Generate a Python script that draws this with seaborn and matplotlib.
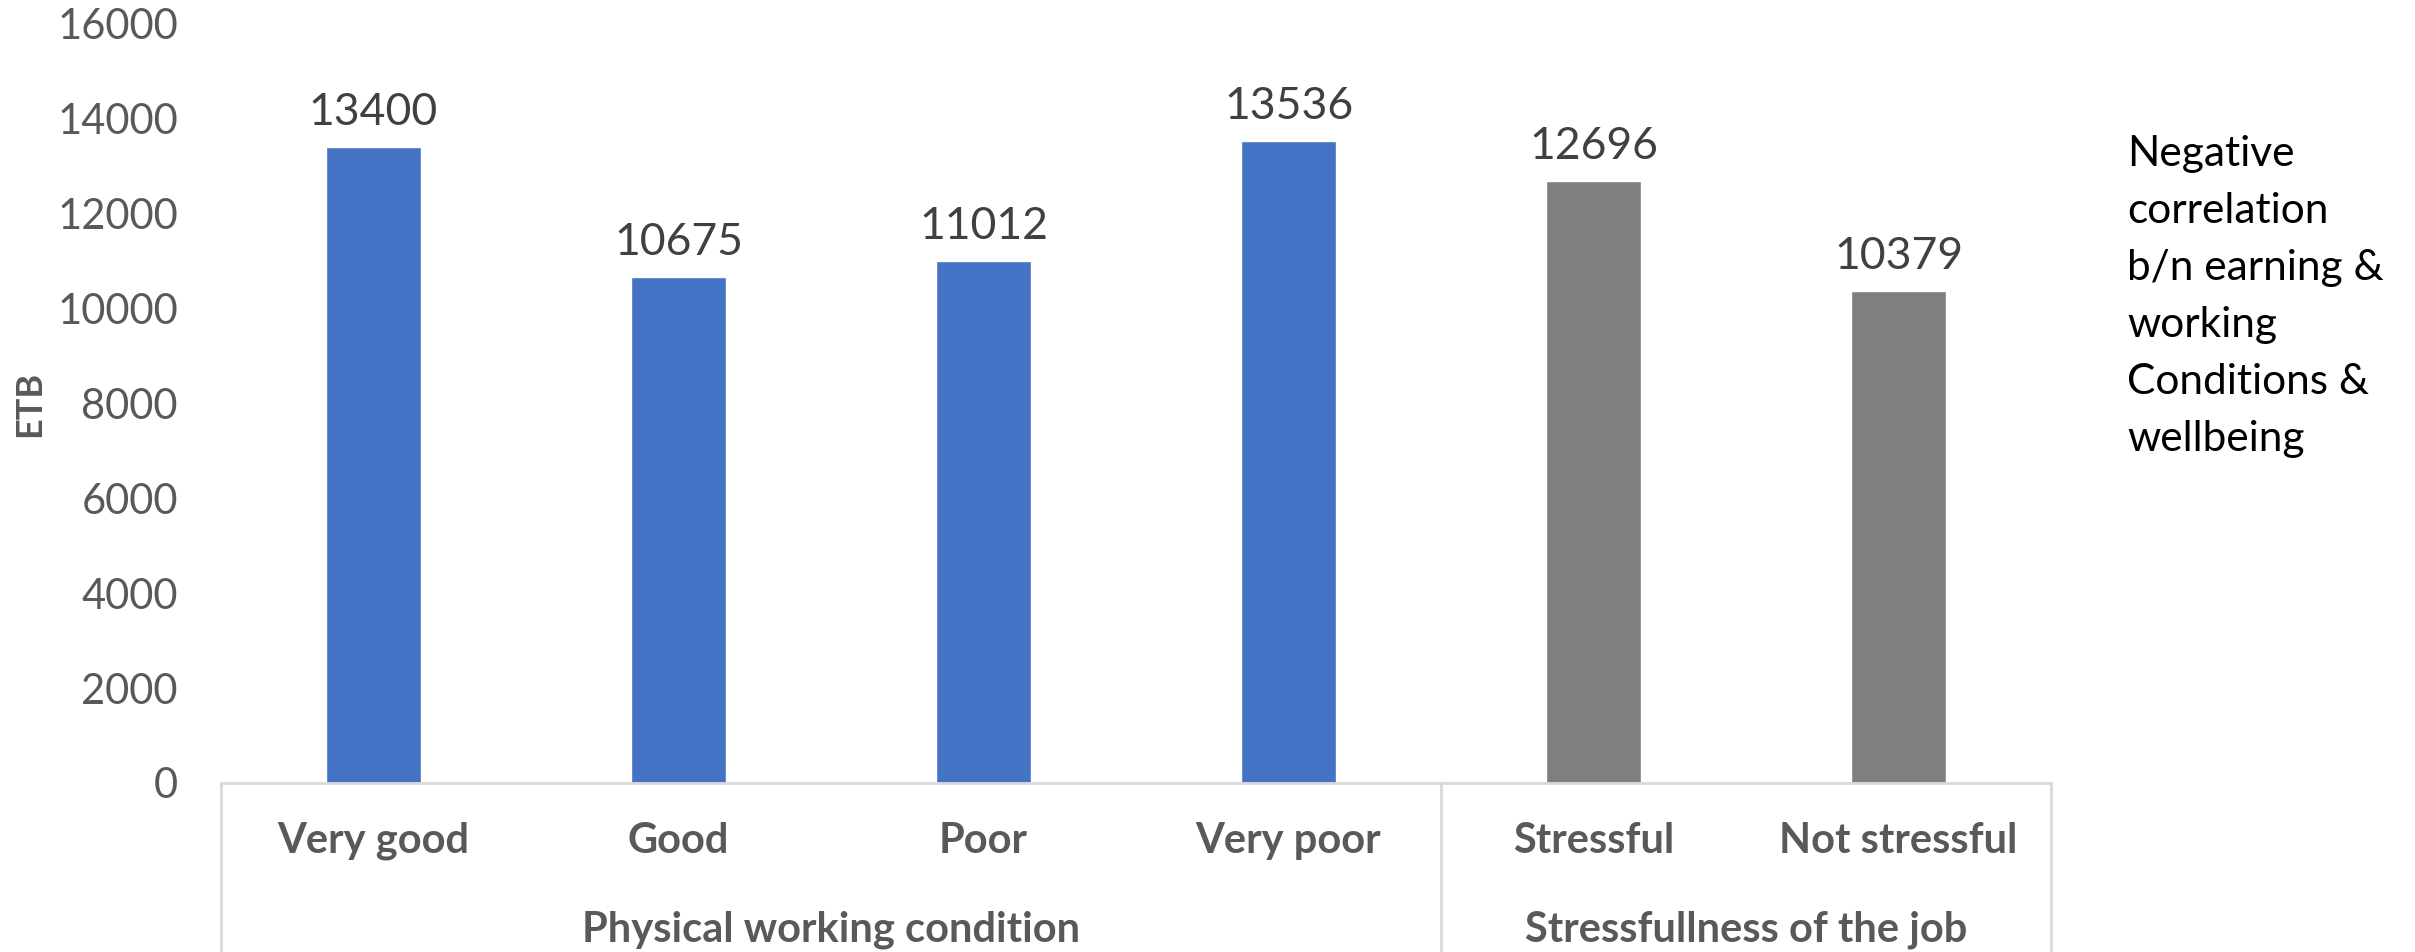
import matplotlib
matplotlib.use("Agg")
import matplotlib.pyplot as plt
import matplotlib.transforms as mtransforms
import seaborn as sns
import pandas as pd

# Average earnings (ETB) by working condition and job stress
categories = ["Very good", "Good", "Poor", "Very poor", "Stressful", "Not stressful"]
values = [13400, 10675, 11012, 13536, 12696, 10379]
groups = ["Physical working condition"] * 4 + ["Stressfullness of the job"] * 2
group_names = ["Physical working condition", "Stressfullness of the job"]
y_ticks = [0, 2000, 4000, 6000, 8000, 10000, 12000, 14000, 16000]
note_lines = ["Negative", "correlation", "b/n earning &", "working", "Conditions &", "wellbeing"]

df = pd.DataFrame({"category": categories, "value": values, "group": groups})

sns.set_theme(style="white")
plt.rcParams["font.family"] = ["Lato", "DejaVu Sans"]

W, H = 2415, 952
fig = plt.figure(figsize=(W / 100, H / 100), dpi=100)
left, right, bottom_px, top_px = 221, 2051, 783, 24
ax = fig.add_axes([left / W, (H - bottom_px) / H, (right - left) / W, (bottom_px - top_px) / H])

palette = {"Physical working condition": "#4472C4", "Stressfullness of the job": "#7F7F7F"}
sns.barplot(data=df, x="category", y="value", hue="group", palette=palette,
            dodge=False, width=0.31, legend=False, ax=ax, saturation=1)

ax.set_xlim(-0.5, len(categories) - 0.5)
ax.set_ylim(0, 16000)
ax.set_yticks(y_ticks)
ax.set_yticklabels([str(t) for t in y_ticks], fontsize=30, color="#595959")
ax.tick_params(axis="y", length=0, pad=31)
ax.tick_params(axis="x", length=0, pad=28)
ax.set_xticks(range(len(categories)))
ax.set_xticklabels(categories, fontsize=30, fontweight="bold", color="#595959")
ax.set_xlabel("")
ax.set_ylabel("")

for side in ["top", "right", "left"]:
    ax.spines[side].set_visible(False)
ax.spines["bottom"].set_color("#D9D9D9")
ax.spines["bottom"].set_linewidth(2)

# value labels above each bar
for container in ax.containers:
    ax.bar_label(container, labels=[f"{int(v)}" if v == v and v > 0 else "" for v in container.datavalues],
                 padding=10, fontsize=32, color="#404040")

# y-axis title
fig.text(30 / W, 1 - 404 / H, "ETB", rotation=90, ha="center", va="center",
         fontsize=26, fontweight="bold", color="#595959")

# group separators and group labels beneath the category labels
trans = mtransforms.blended_transform_factory(ax.transData, ax.transAxes)
ext = -(H - bottom_px) / (bottom_px - top_px) - 0.01
bounds = [-0.5]
start = 0
for name in group_names:
    n = groups.count(name)
    bounds.append(start + n - 0.5)
    center = start + (n - 1) / 2
    ax.text(center, -0.193, name, transform=trans, ha="center", va="center",
            fontsize=30, fontweight="bold", color="#595959")
    start += n
for b in bounds:
    ax.plot([b, b], [0, ext], transform=trans, color="#D9D9D9", lw=2, clip_on=False)

# side note
for i, line in enumerate(note_lines):
    fig.text(2127 / W, 1 - (154 + i * 57) / H, line, ha="left", va="center",
             fontsize=30.5, color="#000000")

fig.savefig("out.png", dpi=100)
